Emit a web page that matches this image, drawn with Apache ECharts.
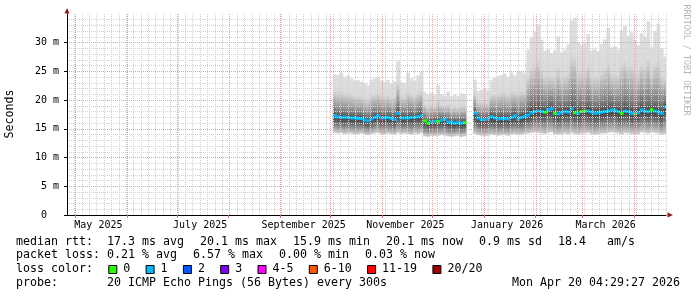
<!DOCTYPE html>
<html><head><meta charset="utf-8">
<script src="https://cdn.jsdelivr.net/npm/echarts@6/dist/echarts.min.js"></script>
<style>html,body{margin:0;padding:0;background:#fff}#c{width:697px;height:297px}</style>
</head><body><div id="c"></div>
<script>
// ---------- data ----------
const axisStart = '2025-04-26T04:29:27Z';
const axisEnd   = '2026-04-20T04:29:27Z';
const dataStart = '2025-10-02T12:00:00Z';   // first consolidated column
const stepDays  = 2;                        // width of one column in days

const median = [
  17.3,17.1,17.0,17.0,17.0,16.9,16.9,16.8,16.8,16.5,
  16.4,16.7,17.0,17.3,16.9,16.9,17.0,16.8,16.6,17.7,
  16.9,16.9,16.9,17.0,17.0,17.1,17.3,16.4,16.0,16.2,
  16.3,16.3,16.5,16.7,16.2,16.1,16.0,16.1,16.0,16.1,
  null,null,17.7,16.9,16.6,16.6,16.7,17.1,16.9,16.7,
  16.8,16.8,16.7,17.0,17.3,16.7,17.0,17.2,17.4,17.8,
  18.0,18.1,18.0,17.9,18.3,18.5,17.7,17.6,17.8,18.0,
  17.9,18.5,17.8,17.7,18.0,18.1,18.1,17.9,17.7,17.8,
  17.9,18.0,18.1,18.3,18.2,18.0,17.7,18.1,18.0,17.7,
  17.6,17.8,18.3,18.1,18.0,18.3,18.1,17.9,17.7,18.8
];
const smokeMin = [
  14.3,14.2,14.3,14.1,14.2,14.2,14.0,14.1,14.2,14.0,
  13.9,14.1,14.2,14.3,14.1,14.0,14.2,14.1,14.0,14.3,
  14.1,14.2,14.1,14.0,14.2,14.1,14.3,13.7,13.6,13.8,
  13.7,13.8,13.9,13.8,13.7,13.6,13.7,13.8,13.6,13.7,
  null,null,14.1,13.9,13.8,13.7,13.8,14.0,13.9,13.8,
  13.9,13.9,13.8,14.0,14.1,13.9,14.0,14.1,14.2,14.3,
  14.4,14.3,14.2,14.1,14.3,14.4,14.0,14.0,14.1,14.2,
  14.1,14.3,14.1,14.0,14.2,14.2,14.3,14.1,14.0,14.1,
  14.2,14.2,14.3,14.4,14.3,14.2,14.0,14.3,14.2,14.1,
  14.0,14.1,14.4,14.3,14.2,14.4,14.3,14.2,14.0,14.1
];
const smokeMax = [
  24.5,24.4,24.8,24.0,24.3,23.8,23.4,23.5,23.2,23.0,
  22.6,23.6,23.8,24.0,23.4,23.2,23.5,22.9,23.3,26.8,
  23.2,23.0,24.8,23.8,23.4,24.3,24.9,21.4,21.0,21.3,
  20.9,22.6,21.0,20.8,21.5,20.6,20.9,20.7,21.2,21.0,
  null,null,23.6,21.6,21.8,22.0,21.7,23.6,23.9,24.2,
  24.4,24.6,24.0,24.8,24.3,24.9,25.0,24.7,28.8,31.0,
  32.0,33.2,30.5,28.6,28.9,28.2,28.7,31.1,28.3,28.8,
  29.7,33.8,34.4,30.1,29.6,29.9,31.5,28.6,28.9,28.5,
  29.8,30.6,32.6,29.2,29.4,28.8,32.2,33.0,31.2,31.8,
  30.5,29.6,31.7,31.0,33.7,29.2,32.0,33.3,29.0,27.6
];
// index into lossColors (0 = no loss, 1 = 1/20)
const lossClass = [
  1,1,1,1,1,1,1,1,1,1,
  1,1,1,1,1,1,1,1,1,1,
  1,1,1,1,1,1,1,0,0,1,
  1,0,1,1,1,1,1,1,1,0,
  null,null,1,1,1,1,1,1,1,1,
  1,1,1,1,1,1,1,1,1,1,
  1,1,1,0,1,1,0,1,1,1,
  1,1,0,1,0,0,1,1,1,1,
  1,1,1,1,1,1,0,1,1,1,
  0,1,1,1,1,0,1,1,1,1
];
const lossLabels = ['0','1','2','3','4-5','6-10','11-19','20/20'];
const lossColors = ['#26ff00','#00b8ff','#0059ff','#7e00ff','#ff00ff','#ff5500','#ff0000','#a10000'];

const monthGrid = ['2025-05-01','2025-06-01','2025-07-01','2025-08-01','2025-09-01','2025-10-01',
                   '2025-11-01','2025-12-01','2026-01-01','2026-02-01','2026-03-01','2026-04-01'];
const monthLabelAt = ['2025-05-15','2025-07-15','2025-09-15','2025-11-15','2026-01-15','2026-03-15'];
const monthNames = ['January','February','March','April','May','June','July','August','September','October','November','December'];

const rttLine  = ['median rtt:','17.3 ms avg','20.1 ms max','15.9 ms min','20.1 ms now','0.9 ms sd','18.4   am/s'];
const lossLine = ['packet loss:','0.21 % avg','6.57 % max','0.00 % min','0.03 % now'];
const lossTitle = 'loss color:';
const probeLine = ['probe:','20 ICMP Echo Pings (56 Bytes) every 300s'];
const stampText = 'Mon Apr 20 04:29:27 2026';
const yTitle = 'Seconds';
const watermark = 'RRDTOOL / TOBI OETIKER';

// ---------- build ----------
const DAY = 86400000;
const t0 = Date.parse(dataStart);
const cols = [];
for (let i = 0; i < median.length; i++) {
  if (median[i] == null) continue;
  cols.push([t0 + i*stepDays*DAY, t0 + (i+1)*stepDays*DAY, smokeMin[i], smokeMax[i], median[i], lossClass[i]]);
}
const monthTs = monthGrid.map(d => Date.parse(d + 'T00:00:00Z'));
const FONT = '"DejaVu Sans Mono", monospace';
const CW = 7; // char width at 11.63px

function smokeItem(params, api) {
  const a = api.value(0), b = api.value(1);
  const pMin = api.coord([a, api.value(2)]);
  const pMax = api.coord([a, api.value(3)]);
  const pMed = api.coord([a, api.value(4)]);
  const xb = api.coord([b, api.value(2)])[0];
  const h = pMin[1] - pMax[1];
  const f = Math.max(0.05, Math.min(0.95, (pMed[1] - pMax[1]) / h));
  const g = 1 - f;
  const stops = [
    {offset: 0, color: '#dedede'},
    {offset: f*0.40, color: '#dadada'},
    {offset: f*0.52, color: '#c4c4c4'},
    {offset: f*0.66, color: '#a9a9a9'},
    {offset: f*0.80, color: '#8b8b8b'},
    {offset: f*0.92, color: '#686868'},
    {offset: f, color: '#3e3e3e'},
    {offset: f + g*0.25, color: '#585858'},
    {offset: f + g*0.55, color: '#858585'},
    {offset: f + g*0.8, color: '#b0b0b0'},
    {offset: 1, color: '#d0d0d0'}
  ];
  return {type: 'rect', shape: {x: pMin[0], y: pMax[1], width: xb - pMin[0] + 0.4, height: h},
          style: {fill: new echarts.graphic.LinearGradient(0, 0, 0, 1, stops)}};
}
function medianItem(params, api) {
  const a = api.value(0), b = api.value(1);
  const p = api.coord([a, api.value(4)]);
  const xb = api.coord([b, api.value(4)])[0];
  return {type: 'rect', shape: {x: p[0], y: p[1] - 1.5, width: xb - p[0] + 0.4, height: 3},
          style: {fill: lossColors[api.value(5)]}};
}
function monthLineItem(params, api) {
  const cs = params.coordSys;
  const x = Math.round(api.coord([api.value(0), 0])[0]) + 0.5;
  return {type: 'line', shape: {x1: x, y1: cs.y, x2: x, y2: cs.y + cs.height},
          style: {stroke: '#eba0a0', lineWidth: 1, lineDash: [1, 1]}};
}

const graphics = [];
function txt(s, x, y, extra) {
  graphics.push(Object.assign({type: 'text', x: x, y: y, silent: true,
    style: {text: s, font: '11.63px ' + FONT, fill: '#000', textAlign: 'left', textVerticalAlign: 'middle'}}, extra || {}));
}
function legendRow(items, y) {
  let x = 16;
  txt(items[0], x, y);
  x = 16 + 13*CW;
  for (let k = 1; k < items.length; k++) {
    txt(items[k], x, y);
    x += items[k].length*CW + 16;
  }
}
legendRow(rttLine, 241.5);
legendRow(lossLine, 255.4);
txt(lossTitle, 16, 269.3);
(function(){
  let x = 16 + 13*CW + 1.3;
  for (let k = 0; k < lossLabels.length; k++) {
    graphics.push({type: 'rect', silent: true, shape: {x: x + 0.5, y: 265.5, width: 8, height: 8},
      style: {fill: lossColors[k], stroke: '#000', lineWidth: 1}});
    txt(lossLabels[k], x + 15, 269.3);
    x += 15 + lossLabels[k].length*CW + 15.3;
  }
})();
txt(probeLine[0], 16, 282.8);
txt(probeLine[1], 16 + 13*CW, 282.8);
graphics.push({type: 'text', x: 680, y: 282.8, silent: true,
  style: {text: stampText, font: '11.63px ' + FONT, fill: '#000', textAlign: 'right', textVerticalAlign: 'middle'}});
graphics.push({type: 'text', x: 10, y: 114, rotation: Math.PI/2, silent: true,
  style: {text: yTitle, font: '11.63px ' + FONT, fill: '#000', textAlign: 'center', textVerticalAlign: 'middle'}});
graphics.push({type: 'text', x: 686.5, y: 60, rotation: -Math.PI/2, silent: true,
  style: {text: watermark, font: '8.4px ' + FONT, fill: '#b4b4b4', textAlign: 'center', textVerticalAlign: 'middle'}});
// axis arrows
graphics.push({type: 'polygon', silent: true, shape: {points: [[64.5,13.5],[69.5,13.5],[67,8]]}, style: {fill: '#8b1a1a'}});
graphics.push({type: 'polygon', silent: true, shape: {points: [[667.5,212.5],[667.5,217.5],[673,215]]}, style: {fill: '#8b1a1a'}});

const chart = echarts.init(document.getElementById('c'), null, {renderer: 'canvas'});
chart.setOption({
  animation: false,
  backgroundColor: '#ffffff',
  grid: {left: 67, right: 31, top: 14, bottom: 82, containLabel: false},
  xAxis: [{
    type: 'value', min: Date.parse(axisStart), max: Date.parse(axisEnd), z: 6,
    axisLine: {show: true, lineStyle: {color: '#000', width: 1}},
    axisTick: {show: true, customValues: monthTs, length: 3, lineStyle: {color: '#e07070'}},
    axisLabel: {customValues: monthLabelAt.map(d => Date.parse(d + 'T00:00:00Z')), hideOverlap: false,
      showMinLabel: true, showMaxLabel: true,
      formatter: v => { const d = new Date(v); return monthNames[d.getUTCMonth()] + ' ' + d.getUTCFullYear(); },
      fontFamily: FONT, fontSize: 10, color: '#000', margin: 5},
    splitLine: {show: false}
  }, {
    type: 'value', min: 0, max: 81, interval: 1, position: 'bottom', z: 4,
    axisLine: {show: false}, axisTick: {show: false}, axisLabel: {show: false},
    splitLine: {show: true, lineStyle: {color: '#cfcfcf', type: [1, 1], width: 1}}
  }],
  yAxis: {
    type: 'value', min: 0, max: 35, interval: 5, z: 5,
    axisLine: {show: true, lineStyle: {color: '#000', width: 1}},
    axisTick: {show: true, length: 3, lineStyle: {color: '#000'}},
    axisLabel: {formatter: v => v === 35 ? '' : (v === 0 ? '0\u00a0\u00a0' : v + ' m'),
      fontFamily: FONT, fontSize: 10, color: '#000', margin: 8, showMaxLabel: false},
    splitLine: {show: true, showMaxLine: false, lineStyle: {color: '#eba0a0', type: [1, 1], width: 1}},
    minorTick: {show: false, splitNumber: 5},
    minorSplitLine: {show: true, lineStyle: {color: '#d4d4d4', type: [1, 1], width: 1}}
  },
  series: [{
    type: 'custom', name: 'smoke', xAxisIndex: 0, clip: true, z: 2,
    renderItem: smokeItem, encode: {x: [0, 1], y: [2, 3, 4]}, data: cols, silent: true
  }, {
    type: 'custom', name: 'median', xAxisIndex: 0, clip: true, z: 3,
    renderItem: medianItem, encode: {x: [0, 1], y: [4]}, data: cols, silent: true
  }, {
    type: 'custom', name: 'monthGrid', xAxisIndex: 0, clip: true, z: 7,
    renderItem: monthLineItem, encode: {x: 0}, data: monthTs.map(t => [t]), silent: true
  }],
  graphic: graphics
});
</script></body></html>
